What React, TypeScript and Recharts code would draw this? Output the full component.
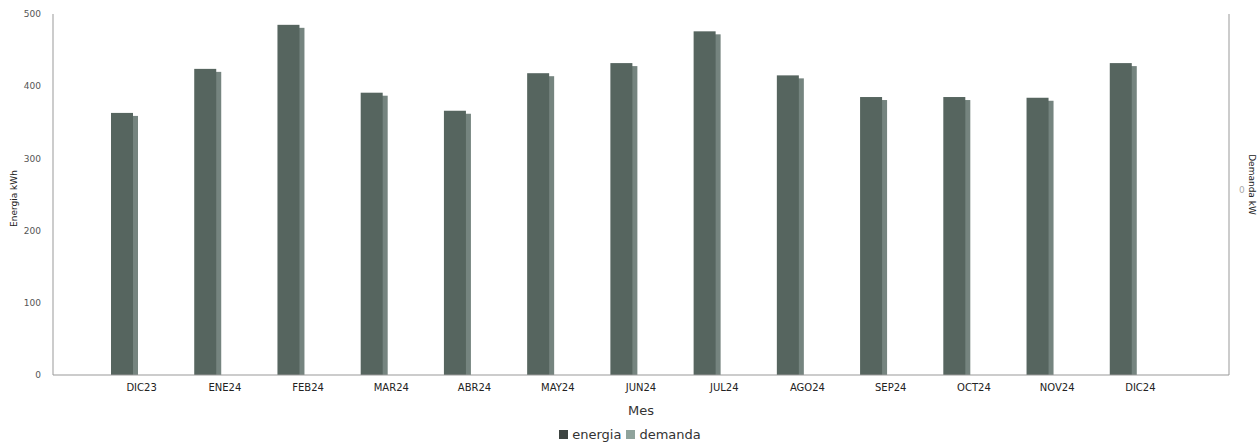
import { BarChart, Bar, XAxis, YAxis, Legend } from "recharts";

const meses = ["DIC23", "ENE24", "FEB24", "MAR24", "ABR24", "MAY24", "JUN24", "JUL24", "AGO24", "SEP24", "OCT24", "NOV24", "DIC24"];
const energia = [363, 424, 485, 391, 366, 418, 432, 476, 415, 385, 385, 384, 432];
const demanda = [0, 0, 0, 0, 0, 0, 0, 0, 0, 0, 0, 0, 0];
const energiaTicks = [0, 100, 200, 300, 400, 500];

const data = meses.map((mes, i) => ({ mes, energia: energia[i], demanda: demanda[i] }));

const FONT = "'DejaVu Sans', sans-serif";

// front face plus a slightly offset lighter side, like the original 3D look
const BarShape = (props: any) => {
  const { x, y, width, height } = props;
  if (!height || height <= 0) return null;
  const side = 5;
  return (
    <g>
      <rect x={x + side} y={y + 3} width={width - side} height={height - 3} fill="#75847f" />
      <rect x={x} y={y} width={width - side} height={height} fill="#56655f" />
    </g>
  );
};

const AxisTitle = ({ viewBox, title, rot, posX, shiftY }: any) => {
  const cy = viewBox.y + viewBox.height / 2 + shiftY;
  return (
    <text
      x={posX}
      y={cy}
      transform={`rotate(${rot}, ${posX}, ${cy})`}
      textAnchor="middle"
      dominantBaseline="central"
      fill="#222"
      fontSize={9}
      fontFamily={FONT}
    >
      {title}
    </text>
  );
};

const LegendContent = () => (
  <div style={{ display: "flex", justifyContent: "center", alignItems: "center", paddingTop: 8, fontFamily: FONT, fontSize: 13, color: "#333" }}>
    <span style={{ display: "inline-block", width: 9, height: 9, background: "#3d4441", marginRight: 4 }} />
    <span style={{ marginRight: 5 }}>energia</span>
    <span style={{ display: "inline-block", width: 9, height: 9, background: "#8fa39c", marginRight: 4 }} />
    <span>demanda</span>
  </div>
);

export default function App() {
  return (
    <div style={{ width: 1260, height: 444, background: "#fff" }}>
      <style>{`body{margin:0}`}</style>
      <BarChart
        width={1260}
        height={444}
        data={data}
        margin={{ top: 14, right: 0, bottom: 0, left: 0 }}
        barSize={27}
        barGap={8}
      >
        <XAxis
          dataKey="mes"
          padding={{ left: 47, right: 47 }}
          tickLine={false}
          stroke="#999"
          tick={{ fill: "#222", fontSize: 10, fontFamily: FONT, fontWeight: 500 }}
          tickMargin={3}
          height={44}
          label={{ value: "Mes", position: "insideBottom", offset: 4, fill: "#333", fontSize: 13, fontFamily: FONT }}
        />
        <YAxis
          yAxisId="left"
          width={53}
          domain={[0, 500]}
          ticks={energiaTicks}
          tickLine={false}
          stroke="#999"
          tick={{ fill: "#555", fontSize: 9, fontFamily: FONT }}
          tickMargin={6}
          label={<AxisTitle title="Energia kWh" rot={-90} posX={14} shiftY={4} />}
        />
        <YAxis
          yAxisId="right"
          orientation="right"
          width={31}
          domain={[-1.05, 1]}
          ticks={[0]}
          tickLine={false}
          stroke="#999"
          tick={{ fill: "#aaa", fontSize: 9, fontFamily: FONT }}
          tickMargin={4}
          label={<AxisTitle title="Demanda kW" rot={90} posX={1252} shiftY={-10} />}
        />
        <Legend verticalAlign="bottom" height={25} content={<LegendContent />} />
        <Bar yAxisId="left" dataKey="energia" name="energia" fill="#3d4441" shape={<BarShape />} isAnimationActive={false} />
        <Bar yAxisId="right" dataKey="demanda" name="demanda" fill="#8fa39c" isAnimationActive={false} />
      </BarChart>
    </div>
  );
}
